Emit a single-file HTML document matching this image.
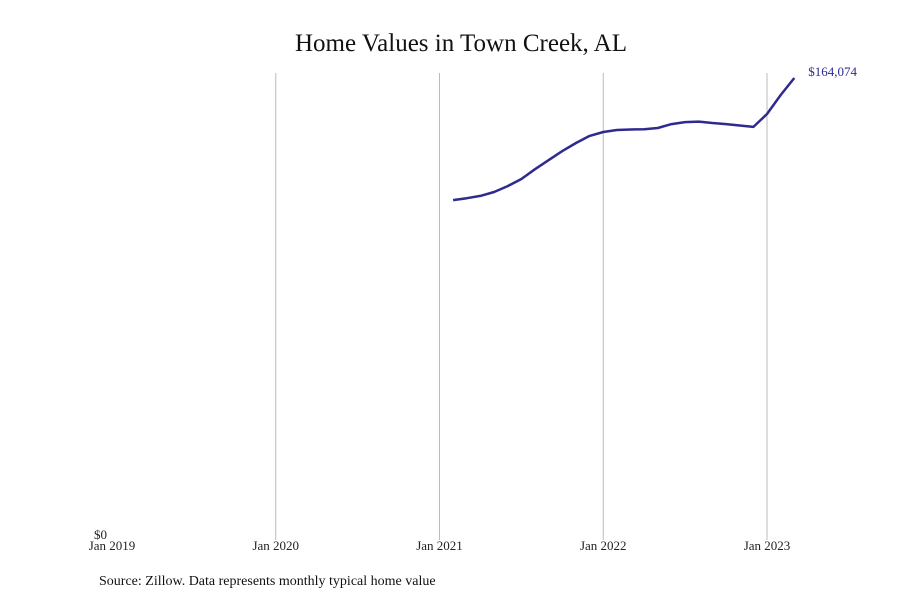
<!DOCTYPE html>
<html><head><meta charset="utf-8"><style>
html,body{margin:0;padding:0;background:#fff;}
svg text{font-family:"Liberation Serif",serif;}
</style></head><body>
<svg id="chart" width="900" height="600" xmlns="http://www.w3.org/2000/svg">
<rect width="900" height="600" fill="#fff"/>
<text x="461" y="51" text-anchor="middle" font-size="25" fill="#111">Home Values in Town Creek, AL</text>
<g id="grid"></g>
<g id="xlabels"></g>
<text x="94" y="539" font-size="13" fill="#222">$0</text>
<path id="line" fill="none" stroke="#2e2a8f" stroke-width="2.5" stroke-linejoin="round"/>
<text id="endlabel" font-size="13" fill="#2e2a8f"></text>
<text x="99" y="585" font-size="14" fill="#111">Source: Zillow. Data represents monthly typical home value</text>
</svg>
<script>
const tickLabels = ["Jan 2019","Jan 2020","Jan 2021","Jan 2022","Jan 2023"];
const tickYears = [2019,2020,2021,2022,2023];
const startYear = 2021, startMonth = 1; // Feb 2021 (0-indexed month)
const values = [120.7,121.4,122.2,123.6,125.7,128.2,131.7,134.9,138.1,141.0,143.5,144.9,145.6,145.8,145.9,146.3,147.7,148.4,148.6,148.1,147.7,147.2,146.7,151.3,158.0,164.074];
const lastLabel = "$164,074";

const ns="http://www.w3.org/2000/svg";
const x = t => 112 + (t-2019)*163.75;
const y = v => 540 - v/164.074*462;
const grid=document.getElementById('grid'), xl=document.getElementById('xlabels');
tickYears.forEach((yr,i)=>{
  if(i>0){
    const l=document.createElementNS(ns,'line');
    l.setAttribute('x1',x(yr));l.setAttribute('x2',x(yr));
    l.setAttribute('y1',73);l.setAttribute('y2',540);
    l.setAttribute('stroke','#bbb');l.setAttribute('stroke-width','1');
    
    
    grid.appendChild(l);
  }
  const t=document.createElementNS(ns,'text');
  t.setAttribute('x',x(yr));t.setAttribute('y',550);
  t.setAttribute('text-anchor','middle');t.setAttribute('font-size','13');t.setAttribute('fill','#222');
  t.textContent=tickLabels[i];
  
  
  xl.appendChild(t);
});
let d='';
values.forEach((v,i)=>{
  const t=startYear+(startMonth+i)/12;
  d+=(i?'L':'M')+x(t).toFixed(1)+','+y(v).toFixed(1);
});
document.getElementById('line').setAttribute('d',d);
const lt=startYear+(startMonth+values.length-1)/12;
const el=document.getElementById('endlabel');
el.setAttribute('x',x(lt)+14);el.setAttribute('y',y(values[values.length-1])-2);
el.textContent=lastLabel;
</script>
</body></html>
